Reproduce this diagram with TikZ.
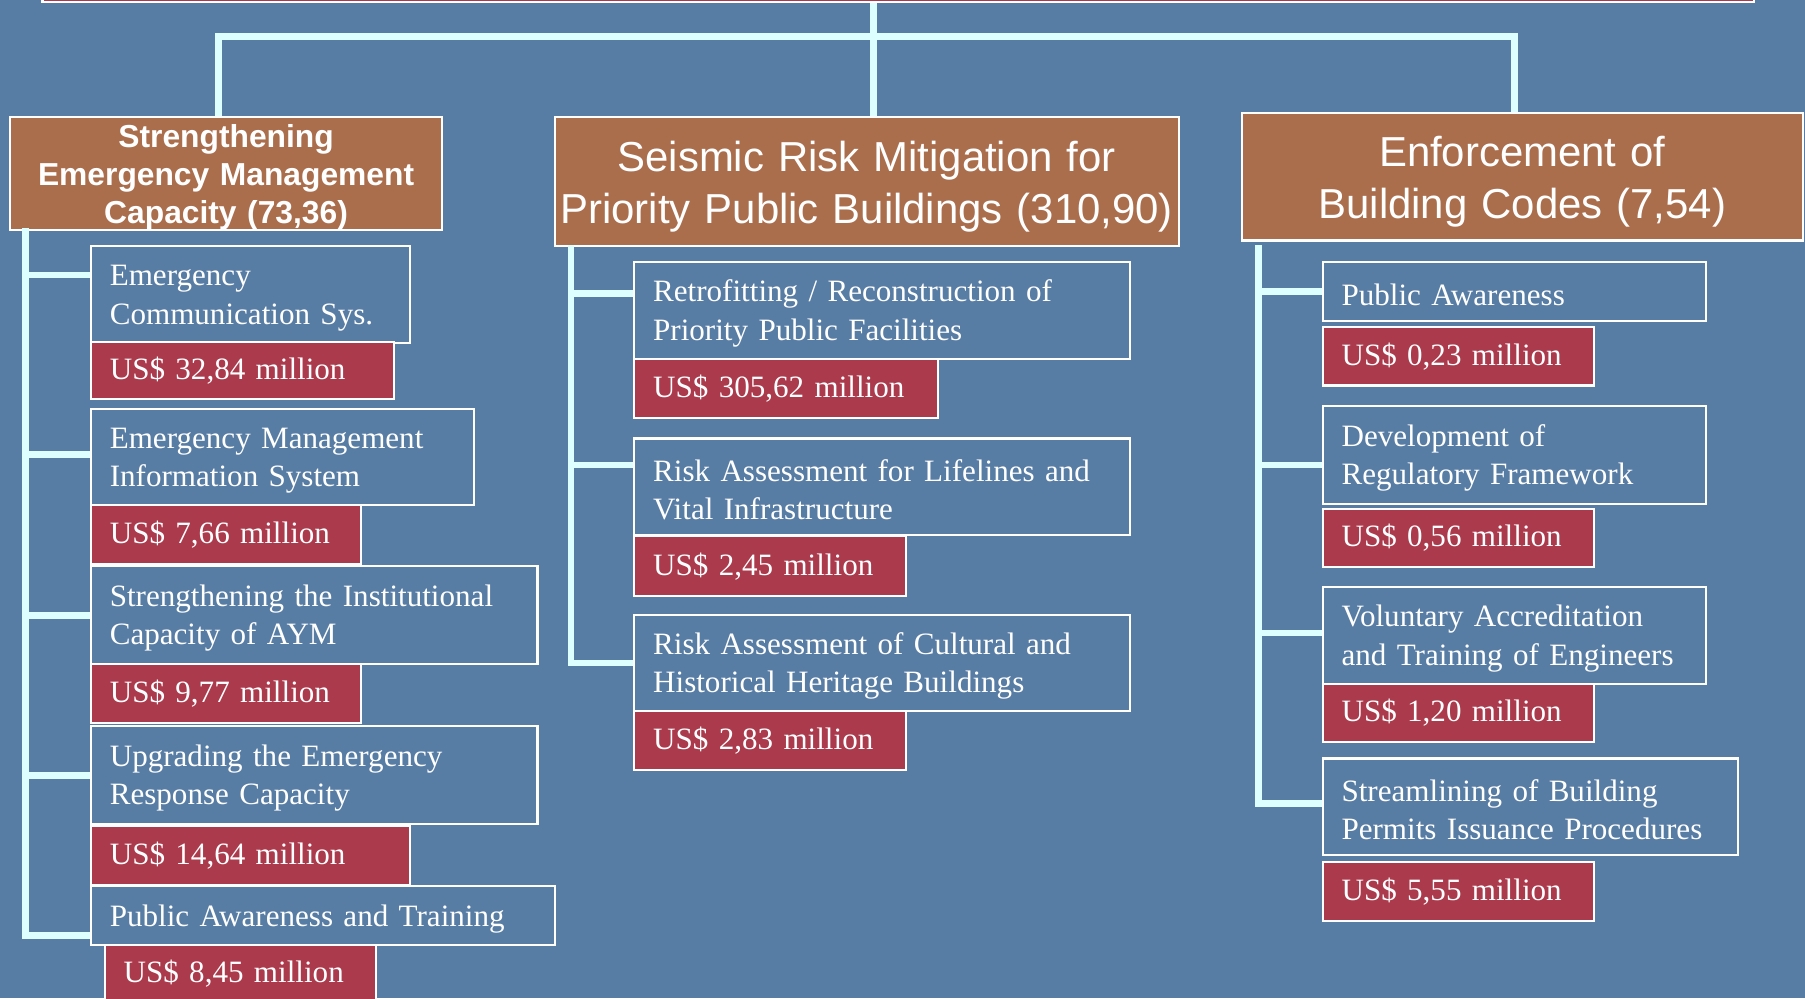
\documentclass[tikz,border=0pt]{standalone}
\usepackage{fontspec}
\setmainfont{Liberation Serif}
\setsansfont{Liberation Sans}
\usepackage{tikz}

\definecolor{slide}{RGB}{88,125,164}
\definecolor{brick}{RGB}{171,110,77}
\definecolor{cost}{RGB}{170,58,76}
\definecolor{link}{RGB}{222,255,255}

\newcommand{\boxfont}{\fontsize{13.5pt}{16.75pt}\selectfont}
\newcommand{\smallheadfont}{\sffamily\bfseries\fontsize{13.8pt}{16.5pt}\selectfont}
\newcommand{\bigheadfont}{\sffamily\fontsize{18.2pt}{22.5pt}\selectfont}

\begin{document}
\begin{tikzpicture}[x=0.5pt, y=-0.5pt,
        plain/.style={draw=white, line width=0.9pt, anchor=north west, align=left,
                     inner xsep=8.25pt, inner ysep=0pt, text=white, font=\boxfont},
        task/.style={plain, text height=12pt},
        price/.style={plain, fill=cost},
        head/.style={draw=white, line width=0.9pt, fill=brick, anchor=north west,
                     align=center, inner sep=0pt, text=white},
        link/.style={draw=link, line width=3pt}]
                \fill [slide] (0,0) rectangle (1568,867);
                \useasboundingbox (0,0) rectangle (1568,867);
                \clip (0,0) rectangle (1568,867);

                \node [price, anchor=south west, minimum width=743.5pt, minimum height=20pt] (goal) at (36,3) {};

                % headers
                \node [head, font=\smallheadfont, text height=13pt, text width=187.5pt, minimum height=48.5pt] (lhead) at (8,101)
                    {Strengthening\\Emergency Management\\Capacity (73,36)};
                \node [head, font=\bigheadfont, text height=17.3pt, text width=271pt, minimum height=56pt] (mhead) at (481,101)
                    {Seismic Risk Mitigation for\\Priority Public Buildings (310,90)};
                \node [head, font=\bigheadfont, text height=17.3pt, text width=243.5pt, minimum height=55.5pt] (rhead) at (1078,97)
                    {Enforcement of\\Building Codes (7,54)};

                \coordinate (hub) at (759,32);
                \draw [link] ([xshift=-3.25pt]lhead.north) |- (hub) -| ([xshift=-3.25pt]rhead.north);
                \draw [link] (goal.south -| hub) -- (hub |- mhead.north);

                % left column
                \node [task, text width=122pt, minimum height=42pt] (l1) at (78,213) {Emergency\\Communication Sys.};
                \node [price, text width=115pt, minimum height=25pt] (l1c) at (78,296) {US\$ 32,84 million};
                \node [task, text width=150pt, minimum height=42pt] (l2) at (78,354) {Emergency Management\\Information System};
                \node [price, text width=101pt, minimum height=25.5pt] (l2c) at (78,438) {US\$ 7,66 million};
                \node [task, text width=177.5pt, minimum height=42.5pt] (l3) at (78,491) {Strengthening the Institutional\\Capacity of AYM};
                \node [price, text width=101pt, minimum height=25.5pt] (l3c) at (78,576) {US\$ 9,77 million};
                \node [task, text width=177.5pt, minimum height=42.5pt] (l4) at (78,630) {Upgrading the Emergency\\Response Capacity};
                \node [price, text width=122pt, minimum height=25.5pt] (l4c) at (78,717) {US\$ 14,64 million};
                \node [task, text width=185pt, minimum height=25.5pt] (l5) at (78,769) {Public Awareness and Training};
                \node [price, text width=101.5pt, minimum height=25pt] (l5c) at (90,820) {US\$ 8,45 million};

                \coordinate (lt) at (22,198);
                \draw [link] ([yshift=8.5pt]l1.west) -| (lt);
                \draw [link] ([yshift=1pt]l2.west) -| (lt);
                \draw [link] (l3.west) -| (lt);
                \draw [link] (l4.west) -| (lt);
                \draw [link] ([yshift=-8.75pt]l5.west) -| (lt);

                % middle column
                \node [task, text width=199pt, minimum height=42pt] (m1) at (550,227) {Retrofitting / Reconstruction of\\Priority Public Facilities};
                \node [price, text width=115.5pt, minimum height=25.5pt] (m1c) at (550,311) {US\$ 305,62 million};
                \node [task, text width=199pt, minimum height=42pt] (m2) at (550,380) {Risk Assessment for Lifelines and\\Vital Infrastructure};
                \node [price, text width=101.5pt, minimum height=26pt] (m2c) at (550,465) {US\$ 2,45 million};
                \node [task, text width=199pt, minimum height=42pt] (m3) at (550,533) {Risk Assessment of Cultural and\\Historical Heritage Buildings};
                \node [price, text width=101.5pt, minimum height=25.5pt] (m3c) at (550,617) {US\$ 2,83 million};

                \coordinate (mt) at (496,213);
                \draw [link] ([yshift=7.5pt]m1.west) -| (mt);
                \draw [link] ([yshift=9.5pt]m2.west) -| (mt);
                \draw [link] (m3.west) -| (mt);

                % right column
                \node [task, text width=150pt, minimum height=25.5pt] (r1) at (1148,227) {Public Awareness};
                \node [price, text width=101.5pt, minimum height=25.5pt] (r1c) at (1148,283) {US\$ 0,23 million};
                \node [task, text width=150pt, minimum height=42.5pt] (r2) at (1148,352) {Development of\\Regulatory Framework};
                \node [price, text width=101.5pt, minimum height=25.5pt] (r2c) at (1148,441) {US\$ 0,56 million};
                \node [task, text width=150pt, minimum height=42pt] (r3) at (1148,509) {Voluntary Accreditation\\and Training of Engineers};
                \node [price, text width=101.5pt, minimum height=25.5pt] (r3c) at (1148,593) {US\$ 1,20 million};
                \node [task, text width=164pt, minimum height=42pt] (r4) at (1148,658) {Streamlining of Building\\Permits Issuance Procedures};
                \node [price, text width=101.5pt, minimum height=25.5pt] (r4c) at (1148,748) {US\$ 5,55 million};

                \coordinate (rt) at (1093,213);
                \draw [link] (r1.west) -| (rt);
                \draw [link] ([yshift=-4.25pt]r2.west) -| (rt);
                \draw [link] ([yshift=1pt]r3.west) -| (rt);
                \draw [link] ([yshift=1.5pt]r4.west) -| (rt);
\end{tikzpicture}
\end{document}
